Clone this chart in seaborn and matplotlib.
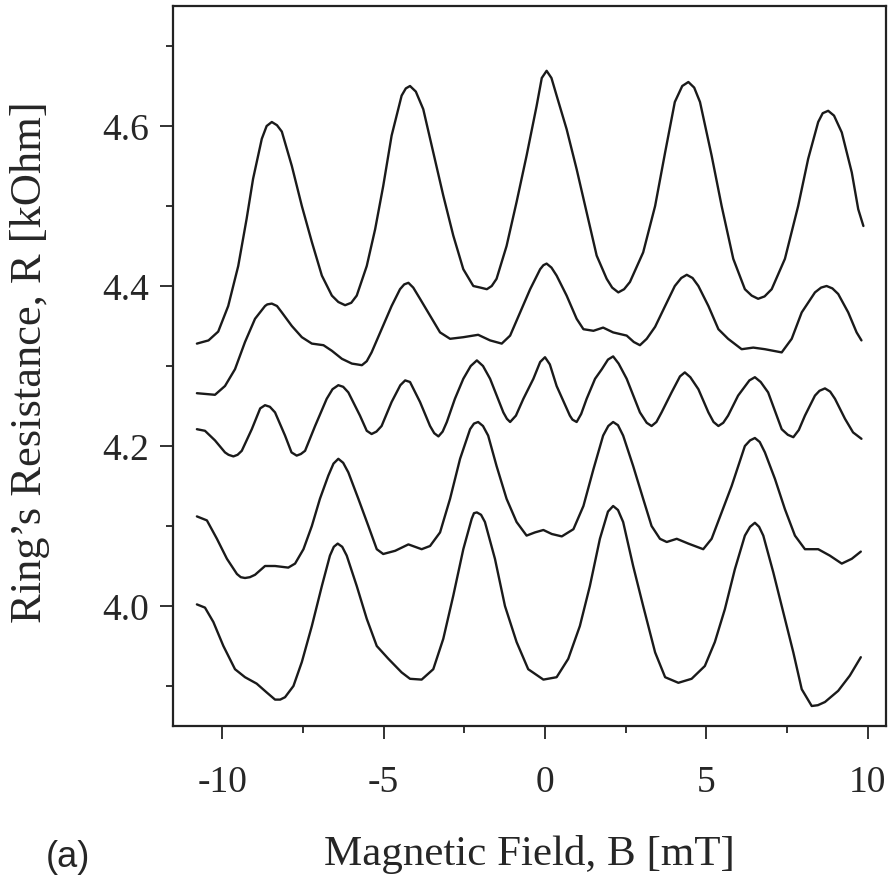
import numpy as np
import pandas as pd
import matplotlib
matplotlib.use("Agg")
import matplotlib.pyplot as plt
import seaborn as sns
from matplotlib.ticker import MultipleLocator

# magnetoresistance traces (B in mT, R in kOhm)
b1 = [-10.78, -10.42, -10.12, -9.81, -9.50, -9.24, -9.04, -8.77, -8.62, -8.46, -8.30, -8.15,
      -7.84, -7.53, -7.22, -6.91, -6.60, -6.40, -6.19, -6.00, -5.83, -5.52, -5.26, -5.01,
      -4.75, -4.44, -4.31, -4.18, -4.00, -3.77, -3.46, -3.15, -2.84, -2.53, -2.22, -2.00,
      -1.80, -1.65, -1.50, -1.19, -0.88, -0.57, -0.26, -0.10, 0.05, 0.20, 0.36, 0.67,
      0.98, 1.29, 1.60, 1.91, 2.08, 2.27, 2.45, 2.63, 3.04, 3.41, 3.72, 4.02, 4.25, 4.44,
      4.62, 4.80, 5.16, 5.47, 5.83, 6.19, 6.40, 6.60, 6.80, 7.02, 7.43, 7.84, 8.15, 8.46,
      8.60, 8.77, 8.95, 9.19, 9.50, 9.70, 9.86]
r1 = [4.328, 4.332, 4.343, 4.375, 4.425, 4.484, 4.534, 4.584, 4.600, 4.605, 4.601, 4.593,
      4.550, 4.500, 4.455, 4.413, 4.388, 4.380, 4.376, 4.379, 4.388, 4.425, 4.471, 4.525,
      4.588, 4.638, 4.647, 4.650, 4.643, 4.621, 4.567, 4.513, 4.463, 4.421, 4.400, 4.398,
      4.396, 4.400, 4.409, 4.450, 4.505, 4.563, 4.625, 4.660, 4.669, 4.660, 4.638, 4.596,
      4.546, 4.492, 4.438, 4.409, 4.398, 4.392, 4.396, 4.405, 4.442, 4.500, 4.567, 4.630,
      4.650, 4.655, 4.648, 4.630, 4.563, 4.500, 4.434, 4.396, 4.388, 4.384, 4.387, 4.396,
      4.434, 4.500, 4.559, 4.605, 4.616, 4.619, 4.613, 4.592, 4.542, 4.496, 4.475]

b2 = [-10.78, -10.22, -9.91, -9.60, -9.29, -8.98, -8.67, -8.60, -8.46, -8.30, -8.15, -7.84,
      -7.53, -7.22, -6.86, -6.60, -6.29, -5.98, -5.82, -5.67, -5.52, -5.37, -5.06, -4.75,
      -4.49, -4.36, -4.23, -4.08, -3.87, -3.56, -3.25, -2.94, -2.53, -2.07, -1.70, -1.34,
      -1.08, -0.77, -0.46, -0.15, -0.05, 0.05, 0.20, 0.36, 0.67, 0.98, 1.19, 1.50, 1.80,
      2.11, 2.53, 2.75, 2.94, 3.15, 3.41, 3.72, 4.02, 4.22, 4.39, 4.57, 4.75, 5.06, 5.37,
      5.67, 6.09, 6.45, 6.81, 7.33, 7.64, 7.95, 8.36, 8.55, 8.72, 8.90, 9.08, 9.39, 9.65, 9.80]
r2 = [4.266, 4.264, 4.275, 4.296, 4.330, 4.359, 4.375, 4.377, 4.378, 4.375, 4.367, 4.350,
      4.336, 4.328, 4.326, 4.319, 4.309, 4.303, 4.302, 4.301, 4.306, 4.317, 4.346, 4.375,
      4.396, 4.402, 4.404, 4.398, 4.384, 4.363, 4.342, 4.334, 4.336, 4.339, 4.332, 4.328,
      4.338, 4.367, 4.396, 4.421, 4.426, 4.428, 4.423, 4.413, 4.388, 4.359, 4.346, 4.344,
      4.348, 4.342, 4.338, 4.330, 4.326, 4.334, 4.349, 4.375, 4.400, 4.410, 4.414, 4.410,
      4.400, 4.375, 4.346, 4.334, 4.321, 4.323, 4.321, 4.317, 4.334, 4.367, 4.392, 4.398,
      4.400, 4.397, 4.390, 4.367, 4.342, 4.332]

b3 = [-10.78, -10.53, -10.22, -9.91, -9.80, -9.65, -9.52, -9.39, -9.08, -8.82, -8.67, -8.52,
      -8.36, -8.05, -7.85, -7.69, -7.56, -7.43, -7.12, -6.76, -6.58, -6.40, -6.25, -6.09,
      -5.73, -5.52, -5.37, -5.22, -5.06, -4.75, -4.48, -4.33, -4.18, -3.87, -3.56, -3.43,
      -3.30, -3.17, -3.04, -2.79, -2.53, -2.30, -2.11, -1.92, -1.70, -1.29, -1.18, -1.08,
      -0.90, -0.67, -0.36, -0.15, 0.00, 0.15, 0.36, 0.77, 0.85, 0.98, 1.12, 1.29, 1.55,
      1.76, 1.95, 2.11, 2.28, 2.53, 2.94, 3.15, 3.30, 3.45, 3.61, 3.92, 4.18, 4.33, 4.50,
      4.75, 5.06, 5.22, 5.37, 5.52, 5.67, 5.98, 6.33, 6.50, 6.68, 6.91, 7.33, 7.52, 7.69,
      7.86, 8.05, 8.36, 8.50, 8.67, 8.83, 8.98, 9.29, 9.54, 9.80]
r3 = [4.221, 4.219, 4.207, 4.192, 4.189, 4.187, 4.189, 4.194, 4.221, 4.247, 4.251, 4.249,
      4.242, 4.213, 4.192, 4.188, 4.190, 4.194, 4.225, 4.259, 4.271, 4.276, 4.274, 4.267,
      4.238, 4.219, 4.215, 4.218, 4.225, 4.255, 4.276, 4.282, 4.280, 4.255, 4.225, 4.216,
      4.212, 4.218, 4.230, 4.259, 4.284, 4.300, 4.307, 4.300, 4.284, 4.242, 4.234, 4.230,
      4.238, 4.259, 4.284, 4.305, 4.311, 4.302, 4.275, 4.238, 4.233, 4.230, 4.240, 4.259,
      4.284, 4.296, 4.308, 4.312, 4.303, 4.284, 4.242, 4.229, 4.225, 4.230, 4.242, 4.267,
      4.287, 4.292, 4.286, 4.271, 4.242, 4.230, 4.225, 4.229, 4.238, 4.263, 4.282, 4.286,
      4.280, 4.267, 4.221, 4.214, 4.211, 4.220, 4.238, 4.263, 4.269, 4.272, 4.268, 4.259,
      4.234, 4.217, 4.209]

b4 = [-10.78, -10.47, -10.16, -9.85, -9.54, -9.42, -9.29, -9.14, -8.98, -8.67, -8.36, -7.95,
      -7.74, -7.48, -7.22, -6.97, -6.71, -6.55, -6.40, -6.25, -6.09, -5.78, -5.47, -5.21,
      -5.01, -4.64, -4.23, -3.82, -3.56, -3.25, -2.94, -2.63, -2.32, -2.20, -2.07, -1.92,
      -1.76, -1.50, -1.19, -0.88, -0.57, -0.31, -0.05, 0.21, 0.52, 0.88, 1.19, 1.50, 1.80,
      1.96, 2.11, 2.26, 2.42, 2.73, 3.04, 3.30, 3.56, 3.77, 4.08, 4.44, 4.90, 5.16, 5.47,
      5.78, 6.19, 6.35, 6.50, 6.65, 6.81, 7.12, 7.43, 7.74, 8.05, 8.46, 8.82, 9.19, 9.50, 9.78]
r4 = [4.112, 4.107, 4.084, 4.059, 4.040, 4.036, 4.035, 4.036, 4.039, 4.050, 4.050, 4.048,
      4.053, 4.071, 4.100, 4.134, 4.163, 4.178, 4.184, 4.179, 4.167, 4.134, 4.100, 4.071,
      4.065, 4.069, 4.077, 4.071, 4.075, 4.092, 4.134, 4.184, 4.221, 4.228, 4.230, 4.225,
      4.213, 4.175, 4.134, 4.105, 4.088, 4.092, 4.095, 4.090, 4.087, 4.096, 4.125, 4.171,
      4.213, 4.225, 4.230, 4.226, 4.213, 4.175, 4.134, 4.100, 4.084, 4.080, 4.084, 4.078,
      4.071, 4.084, 4.117, 4.150, 4.200, 4.207, 4.210, 4.205, 4.192, 4.159, 4.121, 4.088,
      4.071, 4.071, 4.063, 4.053, 4.059, 4.068]

b5 = [-10.78, -10.53, -10.27, -9.96, -9.60, -9.29, -8.93, -8.62, -8.36, -8.20, -8.05, -7.79,
      -7.53, -7.22, -6.91, -6.66, -6.54, -6.42, -6.28, -6.14, -5.83, -5.52, -5.21, -4.85,
      -4.44, -4.18, -3.82, -3.46, -3.15, -2.84, -2.53, -2.27, -2.20, -2.11, -1.98, -1.86,
      -1.55, -1.24, -0.88, -0.52, -0.05, 0.36, 0.72, 1.08, 1.39, 1.70, 1.95, 2.11, 2.26,
      2.42, 2.73, 3.04, 3.41, 3.72, 4.13, 4.54, 4.95, 5.26, 5.57, 5.88, 6.19, 6.35, 6.50,
      6.63, 6.76, 7.07, 7.38, 7.69, 7.95, 8.26, 8.45, 8.67, 9.08, 9.44, 9.78]
r5 = [4.002, 3.998, 3.980, 3.950, 3.921, 3.911, 3.903, 3.892, 3.883, 3.883, 3.886, 3.900,
      3.930, 3.975, 4.025, 4.063, 4.074, 4.078, 4.074, 4.063, 4.025, 3.984, 3.950, 3.934,
      3.917, 3.909, 3.908, 3.921, 3.959, 4.013, 4.071, 4.109, 4.116, 4.117, 4.114, 4.105,
      4.059, 4.000, 3.955, 3.921, 3.908, 3.911, 3.934, 3.975, 4.025, 4.084, 4.118, 4.125,
      4.120, 4.105, 4.050, 4.000, 3.942, 3.911, 3.904, 3.909, 3.925, 3.955, 3.996, 4.046,
      4.088, 4.099, 4.104, 4.099, 4.088, 4.042, 3.992, 3.942, 3.896, 3.875, 3.876, 3.880,
      3.894, 3.913, 3.936]

curves = [(b1, r1), (b2, r2), (b3, r3), (b4, r4), (b5, r5)]

sns.set_style("ticks")
plt.rcParams['font.family'] = ['Liberation Serif', 'DejaVu Serif']

fig = plt.figure(figsize=(8.9, 8.95), dpi=100)
ax = fig.add_axes([173 / 890, 1 - 727 / 895, (886 - 173) / 890, (727 - 7) / 895])

for b, r in curves:
    df = pd.DataFrame({'B': b, 'R': r})
    sns.lineplot(data=df, x='B', y='R', ax=ax, color='#1a1a1a', linewidth=1.7,
                 estimator=None, solid_joinstyle='round', solid_capstyle='round')

ax.set_xlim(-11.52, 10.56)
ax.set_ylim(3.85, 4.75)
ax.xaxis.set_minor_locator(MultipleLocator(2.5))
ax.yaxis.set_minor_locator(MultipleLocator(0.1))
ax.set_yticks([4.0, 4.2, 4.4, 4.6])
ax.set_yticklabels(['4.0', '4.2', '4.4', '4.6'])
ax.set_xticks([-10, -5, 0, 5, 10])
ax.set_xticklabels(['-10', '-5', '0', '5', '10'])

ax.tick_params(axis='both', which='major', direction='out', length=9.5, width=1.3,
               labelsize=27, color='#222222')
ax.tick_params(axis='both', which='minor', direction='out', length=5, width=1.3,
               color='#222222')
ax.tick_params(axis='x', which='major', pad=18)
ax.tick_params(axis='y', which='major', pad=8)
for s in ax.spines.values():
    s.set_linewidth(1.6)
    s.set_color('#222222')

ax.set_xlabel('Magnetic Field, B [mT]', fontsize=31)
ax.set_ylabel('Ring\u2019s Resistance, R [kOhm]', fontsize=32)
ax.xaxis.set_label_coords(0.50, -0.150)
ax.yaxis.set_label_coords(-0.172, 0.507)

fig.text(68 / 890, 1 - 858 / 895, '(a)', fontsize=26, ha='center', va='center',
         family=['Liberation Sans', 'DejaVu Sans'])

fig.savefig('out.png', dpi=100)
